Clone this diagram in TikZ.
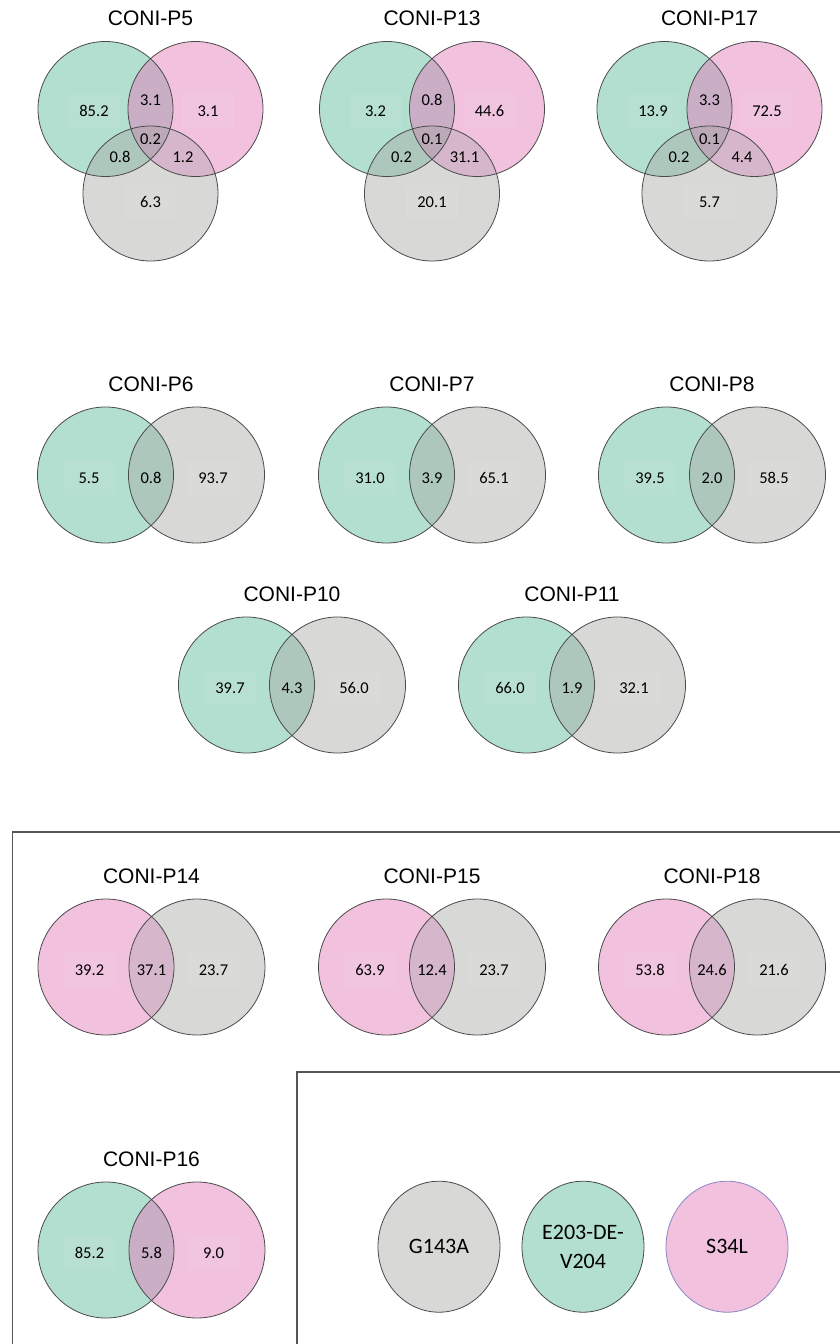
\documentclass[tikz,border=0pt]{standalone}
\usepackage{fontspec}
\newfontfamily\titlefont{Liberation Sans}
\newfontfamily\numfont{Carlito}
\definecolor{vg}{HTML}{B3DFD0}
\definecolor{vp}{HTML}{F1C1DE}
\definecolor{vy}{HTML}{D8D8D6}
\definecolor{vgp}{HTML}{C9AEC6}
\definecolor{vgy}{HTML}{AEC7BD}
\definecolor{vpy}{HTML}{D6B6CA}
\definecolor{vgpy}{HTML}{BBA9B7}
\definecolor{vline}{HTML}{4A4A4A}
\definecolor{legpink}{HTML}{8C86C4}
\definecolor{boxline}{HTML}{555555}
\tikzset{
  outl/.style={draw=vline, line width=0.8pt},
  ttl/.style={font=\titlefont\fontsize{21}{24}\selectfont, inner sep=0pt},
  num/.style={font=\numfont\fontsize{16.5}{19}\selectfont, inner sep=0pt},
  numbox/.style={num, minimum width=52pt, minimum height=34pt, fill=white, fill opacity=0.06, text opacity=1},
  legtxt/.style={font=\numfont\fontsize{22}{28.5}\selectfont, align=center, inner sep=0pt},
  frame/.style={draw=boxline, line width=1.1pt}
}
% three-set venn: #1 name, #2 cx, #3 title
\newcommand\vthree[3]{%
 \begin{scope}[shift={(#2,0)}]
  \fill[vg] (-45,109) circle (67.5);
  \fill[vp] (45,109) circle (67.5);
  \fill[vy] (0,193.5) circle (67.5);
  \begin{scope}\clip (-45,109) circle (67.5); \fill[vgp] (45,109) circle (67.5); \fill[vgy] (0,193.5) circle (67.5); \end{scope}
  \begin{scope}\clip (45,109) circle (67.5); \fill[vpy] (0,193.5) circle (67.5); \end{scope}
  \begin{scope}\clip (-45,109) circle (67.5); \clip (45,109) circle (67.5); \fill[vgpy] (0,193.5) circle (67.5); \end{scope}
  \draw[outl] (-45,109) circle (67.5);
  \draw[outl] (45,109) circle (67.5);
  \draw[outl] (0,193.5) circle (67.5);
  \node[ttl] (#1) at (0,18.5) {#3};
 \end{scope}}
% numbers: #1 cx, #2 left, #3 top, #4 right, #5 centre, #6 lower-left, #7 lower-right, #8 bottom
\newcommand\vthreenums[8]{%
 \begin{scope}[shift={(#1,0)}]
  \node[numbox] (n#1a) at (-56.5,111) {#2};
  \node[num] (n#1b) at (0,100) {#3};
  \node[numbox] (n#1c) at (57.5,111) {#4};
  \node[num] (n#1d) at (0,139) {#5};
  \node[num] (n#1e) at (-30.5,157) {#6};
  \node[num] (n#1f) at (32.5,157) {#7};
  \node[numbox] (n#1g) at (0,202) {#8};
 \end{scope}}
% two-set venn: #1 name, #2 cx, #3 title y, #4 left colour, #5 right colour, #6 overlap colour, #7 title
\newcommand\vtwo[7]{%
 \begin{scope}[shift={(#2,#3)}]
  \fill[#4] (-45.5,91) circle (68);
  \fill[#5] (45.5,91) circle (68);
  \begin{scope}\clip (-45.5,91) circle (68); \fill[#6] (45.5,91) circle (68); \end{scope}
  \draw[outl] (-45.5,91) circle (68);
  \draw[outl] (45.5,91) circle (68);
  \node[ttl] (#1) at (0,0) {#7};
 \end{scope}}
% numbers: #1 name, #2 cx, #3 title y, #4 left, #5 mid, #6 right
\newcommand\vtwonums[6]{%
 \begin{scope}[shift={(#2,#3)}]
  \node[numbox] (#1a) at (-62,94) {#4};
  \node[num] (#1b) at (0,94) {#5};
  \node[numbox] (#1c) at (62,94) {#6};
 \end{scope}}
\begin{document}
\begin{tikzpicture}[x=1pt,y=-1pt]
\useasboundingbox (0,0) rectangle (840,1344);
\clip (0,0) rectangle (840,1344);
\fill[white] (0,0) rectangle (840,1344);
% row 1
\vthree{t5}{150.5}{CONI-P5}
\vthreenums{150.5}{85.2}{3.1}{3.1}{0.2}{0.8}{1.2}{6.3}
\vthree{t13}{432}{CONI-P13}
\vthreenums{432}{3.2}{0.8}{44.6}{0.1}{0.2}{31.1}{20.1}
\vthree{t17}{709.5}{CONI-P17}
\vthreenums{709.5}{13.9}{3.3}{72.5}{0.1}{0.2}{4.4}{5.7}
% row 2
\vtwo{t6}{151}{384}{vg}{vy}{vgy}{CONI-P6}
\vtwonums{p6}{151}{384}{5.5}{0.8}{93.7}
\vtwo{t7}{432}{384}{vg}{vy}{vgy}{CONI-P7}
\vtwonums{p7}{432}{384}{31.0}{3.9}{65.1}
\vtwo{t8}{712}{384}{vg}{vy}{vgy}{CONI-P8}
\vtwonums{p8}{712}{384}{39.5}{2.0}{58.5}
% row 3
\vtwo{t10}{292}{594}{vg}{vy}{vgy}{CONI-P10}
\vtwonums{p10}{292}{594}{39.7}{4.3}{56.0}
\vtwo{t11}{572}{594}{vg}{vy}{vgy}{CONI-P11}
\vtwonums{p11}{572}{594}{66.0}{1.9}{32.1}
% frames
\draw[frame] (12.5,1360) -- (12.5,832) -- (860,832);
\draw[frame] (297,1360) -- (297,1072) -- (860,1072);
% row 4
\vtwo{t14}{151.5}{876}{vp}{vy}{vpy}{CONI-P14}
\vtwonums{p14}{151.5}{876}{39.2}{37.1}{23.7}
\vtwo{t15}{432}{876}{vp}{vy}{vpy}{CONI-P15}
\vtwonums{p15}{432}{876}{63.9}{12.4}{23.7}
\vtwo{t18}{712}{876}{vp}{vy}{vpy}{CONI-P18}
\vtwonums{p18}{712}{876}{53.8}{24.6}{21.6}
% row 5
\vtwo{t16}{151.5}{1159}{vg}{vp}{vgp}{CONI-P16}
\vtwonums{p16}{151.5}{1159}{85.2}{5.8}{9.0}
% legend
\draw[fill=vy, draw=vline, line width=0.8pt] (439,1246.7) ellipse (61 and 65.5);
\node[legtxt] (lg1) at (439,1246.7) {G143A};
\draw[fill=vg, draw=vline, line width=0.8pt] (583,1246.7) ellipse (61 and 65.5);
\node[legtxt] (lg2) at (583,1246.7) {E203-DE-\\V204};
\draw[fill=vp, draw=legpink, line width=0.8pt] (727,1246.7) ellipse (61 and 65.5);
\node[legtxt] (lg3) at (727,1246.7) {S34L};
\end{tikzpicture}
\end{document}
